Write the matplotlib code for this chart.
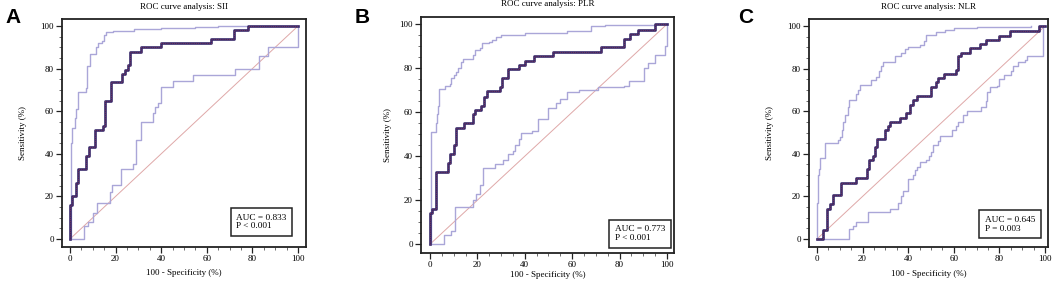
import matplotlib.pyplot as plt
from matplotlib.ticker import MultipleLocator

# ---- data ----
titles = ["ROC curve analysis: SII", "ROC curve analysis: PLR", "ROC curve analysis: NLR"]
panel_letters = ["A", "B", "C"]
auc_text = ["AUC = 0.833\nP < 0.001", "AUC = 0.773\nP < 0.001", "AUC = 0.645\nP = 0.003"]

sii_x = [0, 0, 1, 2.5, 3.5, 7, 8.5, 11, 14.5, 15.5, 18, 23, 24, 25.5, 26.5, 31, 40, 62, 72, 78, 100]
sii_y = [0, 16, 20, 26.5, 33, 39, 43, 51, 53, 65, 73.5, 77.5, 79.5, 81.5, 88, 90, 92, 94, 98, 100, 100]
sii_hi_x = [0, 0, 0.3, 0.7, 2, 2.5, 3.5, 6, 7, 7.3, 8.8, 11.3, 12.5, 14, 15, 16, 19, 28, 40, 55, 65, 100]
sii_hi_y = [0, 0, 45, 52, 57, 61, 69, 69, 71, 81, 87, 90, 92, 93, 96, 97, 97.5, 98.5, 99, 99.5, 100, 100]
sii_lo_x = [0, 6, 8, 10, 12, 17.5, 18.5, 22.5, 27.5, 29, 31, 36.5, 37.5, 38.5, 40, 45, 54, 72.5, 83, 87, 100, 100]
sii_lo_y = [0, 6, 8, 12, 17, 22, 25.5, 33, 35, 46.5, 55, 59, 62, 64, 71.5, 74, 77, 80, 86, 90, 100, 100]

plr_x = [0, 0, 0.7, 2.5, 7.5, 8.5, 10, 11, 14.5, 18, 19, 21.5, 23, 24, 29.5, 30.5, 33, 37.5, 40, 44, 52, 72,
         82, 84.5, 88, 95, 100]
plr_y = [0, 14, 16, 33, 37, 41, 45, 53, 55, 59, 61, 63, 67, 69.5, 71.5, 75.5, 79.5, 81.5, 83.5, 85.5, 87.5,
         89.5, 93.5, 95.5, 97.5, 100, 100]
plr_hi_x = [0, 0.3, 2.5, 3, 3.5, 4, 6.5, 8.5, 9, 10, 11, 12, 13, 14, 17, 18, 19, 21, 22, 25, 26, 28, 30, 40,
            58, 68, 74, 95, 100]
plr_hi_y = [0, 51, 55, 59, 63, 70.5, 72, 73, 75.5, 77, 78.5, 80, 83, 84, 84, 86, 88.5, 89, 91.5, 92, 93, 94,
            95, 96, 97, 99, 99.5, 100, 100]
plr_lo_x = [0, 6, 9, 10.5, 17.5, 18, 19.5, 21, 22.5, 27.5, 31, 33, 35, 36, 37.5, 38.5, 43, 45.5, 50, 53, 55,
            58, 63, 71, 82, 84, 90, 90.5, 92, 95, 99, 100, 100]
plr_lo_y = [0, 4, 6, 17, 17, 20, 23, 27, 34.5, 36.5, 38.5, 41, 42.5, 45, 48, 50.5, 51.5, 57, 62, 64, 66, 69,
            70, 71.5, 72, 74, 74, 80, 82.5, 86, 90, 100, 100]

nlr_x = [0, 2.5, 4.5, 5.5, 7, 10.5, 17, 22, 23, 24.5, 25.5, 26.5, 30, 31, 32, 36.5, 39, 41, 42, 44, 50, 52,
         53, 55.5, 61, 62, 63, 67, 71.5, 74, 80, 84.5, 97.5, 100]
nlr_y = [0, 4, 14, 16.5, 20.5, 26.5, 28.5, 33, 37, 39, 43, 47, 51, 53, 55, 57, 59, 63, 65.5, 67, 71.5, 73.5,
         75.5, 77.5, 79.5, 86, 87.5, 89.5, 91.5, 93.5, 95.5, 97.5, 100, 100]
nlr_hi_x = [0, 0, 0.5, 1, 1.5, 3.5, 9, 10, 11, 11.5, 12.5, 13.5, 14, 17, 18, 19, 23.5, 26, 27, 28, 29, 34,
            37, 38.5, 40, 45, 47, 48, 52, 56, 60, 70, 94]
nlr_hi_y = [0, 17, 30, 33, 38, 45, 46.5, 48, 51, 55, 58, 62, 65.5, 68, 70, 72.5, 74.5, 76, 79, 81, 83, 86,
            87.5, 89, 90, 91, 93, 96, 97, 98, 99, 99.5, 100]
nlr_lo_x = [0, 14, 16, 17, 22.5, 32, 35.5, 37, 37.5, 40, 42, 43, 44, 45, 48, 49, 50, 51, 53, 54, 59, 61, 62,
            64, 66, 72, 74, 74.5, 76, 79, 80, 82, 85, 86, 88, 91, 92, 99, 99]
nlr_lo_y = [0, 4.5, 6, 8, 12.5, 14, 17, 20, 22.5, 28, 30, 32.5, 34, 36, 37, 39, 41, 44, 46, 48.5, 51, 53, 55,
            58, 60, 62, 65, 69, 71.5, 72, 75, 77, 79, 81, 83, 84, 86, 100, 100]

curves = [(sii_x, sii_y), (plr_x, plr_y), (nlr_x, nlr_y)]
upper = [(sii_hi_x, sii_hi_y), (plr_hi_x, plr_hi_y), (nlr_hi_x, nlr_hi_y)]
lower = [(sii_lo_x, sii_lo_y), (plr_lo_x, plr_lo_y), (nlr_lo_x, nlr_lo_y)]

# ---- layout (pixels measured on the 1053x281 reference) ----
W, H = 1053, 281
frames = [(62, 19, 306, 247), (421, 17, 674, 253), (809, 19, 1048, 247)]
xlims = [(-3.5, 103.5), (-3.8, 103.0), (-3.5, 101.3)]
ylims = [(-3.75, 103.3), (-4.0, 103.3), (-3.75, 103.3)]
letter_pos = [(5, 8), (355, 8), (738, 8)]
box_xy = [(73, 4.0), (78, 1.0), (73.5, 3.0)]
xlabel_y = [-0.096, -0.076, -0.10]
ylabel_x = [-0.143, -0.115, -0.146]

main_col = "#38296a"
ci_col = "#aaa6d8"
diag_col = "#dfa8a8"
serif = ["Liberation Serif", "DejaVu Serif"]

plt.rcParams["font.family"] = serif
fig = plt.figure(figsize=(W / 100, H / 100), dpi=100)

for i in range(3):
    l, t, r, b = frames[i]
    ax = fig.add_axes([l / W, (H - b) / H, (r - l) / W, (b - t) / H])
    ax.plot([0, 100], [0, 100], color=diag_col, lw=0.7)
    ax.plot(*upper[i], color=ci_col, lw=1.0, drawstyle="steps-post")
    ax.plot(*lower[i], color=ci_col, lw=1.0, drawstyle="steps-post")
    ax.plot(*curves[i], color=main_col, lw=1.9, drawstyle="steps-post")
    ax.plot(*curves[i], color="#c04048", lw=0.45, ls=(0, (1, 2.5)), drawstyle="steps-post")

    ax.set_xlim(*xlims[i])
    ax.set_ylim(*ylims[i])
    ax.xaxis.set_major_locator(MultipleLocator(20))
    ax.yaxis.set_major_locator(MultipleLocator(20))
    ax.xaxis.set_minor_locator(MultipleLocator(5))
    ax.yaxis.set_minor_locator(MultipleLocator(5))
    ax.tick_params(which="major", direction="out", length=4.5, width=0.9, labelsize=6.5, pad=1.5,
                   color="#222222")
    ax.tick_params(which="minor", direction="out", length=2.5, width=0.6, color="#555555")
    for sp in ax.spines.values():
        sp.set_linewidth(1.3)
        sp.set_color("#222222")

    ax.set_title(titles[i], fontsize=6.5, y=1.045, pad=0)
    ax.set_xlabel("100 - Specificity (%)", fontsize=6.5)
    ax.set_ylabel("Sensitivity (%)", fontsize=6.5)
    ax.xaxis.set_label_coords(0.5, xlabel_y[i])
    ax.yaxis.set_label_coords(ylabel_x[i], 0.5)

    ax.text(box_xy[i][0], box_xy[i][1], auc_text[i], fontsize=6.7, ha="left", va="bottom",
            linespacing=1.15,
            bbox=dict(boxstyle="square,pad=0.6", fc="white", ec="#222222", lw=1.1))

    lx, ly = letter_pos[i]
    fig.text(lx / W, 1 - ly / H, panel_letters[i], fontsize=15, fontweight="bold",
             family=["Liberation Sans", "DejaVu Sans"], ha="left", va="top")

fig.savefig("out.png", dpi=100)
